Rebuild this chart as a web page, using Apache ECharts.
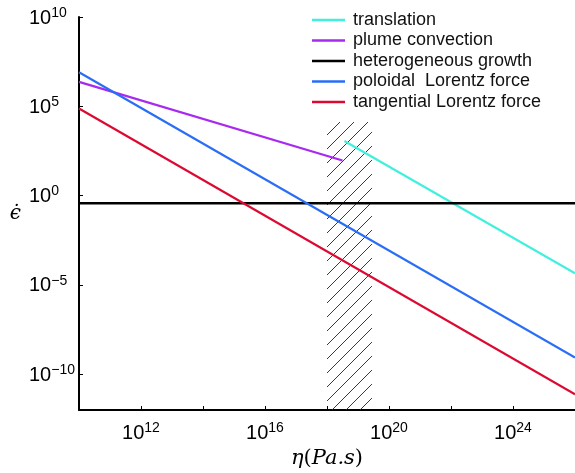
<!DOCTYPE html>
<html>
<head>
<meta charset="utf-8">
<script src="https://cdn.jsdelivr.net/npm/echarts@6/dist/echarts.min.js"></script>
<style>
  html, body { margin: 0; padding: 0; background: #fff; }
  #chart1 { width: 575px; height: 473px; }
</style>
</head>
<body>
<div id="chart1"></div>
<script>
// all values are log10 of eta (Pa.s) and log10 of strain rate
var translationX = [18.56, 26];
var translationY = [3.06, -4.35];
var plumeX = [10, 18.5];
var plumeY = [6.37, 1.97];
var growthX = [10, 26];
var growthY = [-0.42, -0.42];
var poloidalX = [10, 26];
var poloidalY = [6.91, -9.06];
var tangentialX = [10, 26];
var tangentialY = [4.88, -11.12];
var hatchX = [18, 19.45];
var hatchTop = 4.12;
var hatchBottom = -12;
var xTicks = [12, 14, 16, 18, 20, 22, 24];
var xLabels = [12, 16, 20, 24];
var yTicks = [-10, -5, 0, 5, 10];

var chart1 = echarts.init(document.getElementById('chart1'));

function pairs(xs, ys) {
    return xs.map(function (x, i) { return [x, ys[i]]; });
}
function powLabel(v) {
    var e = String(Math.round(v)).replace('-', '\u2212');
    return '{b|10}{s|' + e + '}';
}
// hatch pattern
var pat = document.createElement('canvas');
pat.width = 14; pat.height = 14;
var ctx = pat.getContext('2d');
ctx.strokeStyle = '#222';
ctx.lineWidth = 0.9;
ctx.beginPath();
ctx.moveTo(-1, 15); ctx.lineTo(15, -1);
ctx.stroke();

var labelRich = {
    b: { fontSize: 20, fontFamily: 'Liberation Sans', color: '#000', lineHeight: 22, verticalAlign: 'bottom' },
    s: { fontSize: 14, fontFamily: 'Liberation Sans', color: '#000', lineHeight: 14, verticalAlign: 'top' }
};

function lineSeries(name, xs, ys, color, width) {
    return {
        name: name,
        type: 'line',
        data: pairs(xs, ys),
        symbol: 'none',
        lineStyle: { color: color, width: width },
        itemStyle: { color: color },
        z: 3
    };
}

var option = {
    animation: false,
    grid: { left: 79, right: 0, top: 17, bottom: 63, outerBoundsMode: 'none' },
    legend: {
        orient: 'vertical',
        left: 307,
        top: 6,
        icon: 'rect',
        itemWidth: 33,
        itemHeight: 2.5,
        itemGap: 2.5,
        textStyle: { fontSize: 18, fontFamily: 'Liberation Sans', color: '#111', lineHeight: 18, padding: [0, 0, 0, 3] },
        data: ['translation', 'plume convection', 'heterogeneous growth', 'poloidal  Lorentz force', 'tangential Lorentz force']
    },
    xAxis: {
        type: 'value',
        min: 10,
        max: 26,
        name: '{i|\u03b7}{n|(}{i|Pa.s}{n|)}',
        nameLocation: 'middle',
        nameGap: 37,
        nameTextStyle: {
            rich: {
                i: { fontSize: 21, fontFamily: 'DejaVu Serif', fontStyle: 'italic', color: '#000' },
                n: { fontSize: 21, fontFamily: 'DejaVu Serif', color: '#000' }
            }
        },
        axisLine: { onZero: false, lineStyle: { color: '#000', width: 2 } },
        axisTick: { inside: true, length: 4, customValues: xTicks, lineStyle: { color: '#000', width: 1 } },
        axisLabel: { customValues: xLabels, margin: 11, formatter: powLabel, rich: labelRich },
        splitLine: { show: false }
    },
    yAxis: {
        type: 'value',
        min: -12,
        max: 10,
        name: '\u03f5\u0307',
        nameLocation: 'middle',
        nameRotate: 0,
        nameGap: 58,
        nameTextStyle: { fontSize: 20, fontFamily: 'DejaVu Serif', fontStyle: 'italic', color: '#000', padding: [10, 0, 0, 0] },
        axisLine: { onZero: false, lineStyle: { color: '#000', width: 2 } },
        axisTick: { inside: true, length: 4, customValues: yTicks, lineStyle: { color: '#000', width: 1 } },
        axisLabel: { customValues: yTicks, margin: 50, align: 'left', formatter: powLabel, rich: labelRich },
        splitLine: { show: false }
    },
    series: [
        {
            type: 'custom',
            silent: true,
            z: 1,
            data: [[hatchX[0], hatchX[1], hatchTop, hatchBottom]],
            renderItem: function (params, api) {
                var p1 = api.coord([api.value(0), api.value(2)]);
                var p2 = api.coord([api.value(1), api.value(3)]);
                return {
                    type: 'rect',
                    shape: { x: p1[0], y: p1[1], width: p2[0] - p1[0], height: p2[1] - p1[1] },
                    style: { fill: { image: pat, repeat: 'repeat' }, stroke: null }
                };
            }
        },
        lineSeries('translation', translationX, translationY, '#40f0dc', 2.2),
        lineSeries('plume convection', plumeX, plumeY, '#a82af0', 2.2),
        lineSeries('heterogeneous growth', growthX, growthY, '#000000', 2.5),
        lineSeries('poloidal  Lorentz force', poloidalX, poloidalY, '#2a6ef5', 2.2),
        lineSeries('tangential Lorentz force', tangentialX, tangentialY, '#dc0a32', 2.2)
    ]
};
chart1.setOption(option);
</script>
</body>
</html>
